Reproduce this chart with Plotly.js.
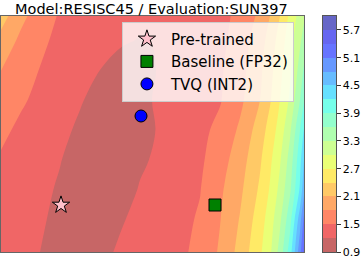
<!DOCTYPE html>
<html>
<head>
<meta charset="utf-8">
<script src="https://cdn.plot.ly/plotly-3.0.1.min.js"></script>
<style>html,body{margin:0;padding:0;background:#fff;}#chart{width:363px;height:261px;}</style>
</head>
<body>
<div id="chart"></div>
<script>
// ---- data ----
const titleText = "Model:RESISC45 / Evaluation:SUN397";
// loss grid over the landscape plane (columns / rows)
const gridX = [0, 20, 40, 60, 80, 100, 120, 140, 160, 180, 200, 220, 240, 260, 270, 280, 290, 300, 305];
const gridY = [0, 32, 62, 92, 122, 152, 182, 212, 236];
const loss = [
  [1.38,1.30,1.20,1.05,0.97,1.12,1.24,1.32,1.39,1.45,1.57,1.84,2.20,2.65,2.94,3.42,4.05,5.00,5.60],
  [1.40,1.32,1.24,1.12,1.00,1.04,1.17,1.28,1.36,1.43,1.53,1.79,2.12,2.56,2.85,3.25,3.80,4.68,5.30],
  [1.42,1.34,1.26,1.17,1.05,1.00,1.08,1.22,1.32,1.41,1.49,1.75,2.04,2.45,2.73,3.09,3.55,4.25,4.85],
  [1.47,1.37,1.29,1.21,1.10,1.03,1.03,1.16,1.25,1.35,1.45,1.67,1.96,2.36,2.64,2.97,3.42,4.10,4.60],
  [1.58,1.44,1.33,1.26,1.16,1.07,1.04,1.10,1.23,1.33,1.43,1.57,1.85,2.25,2.52,2.83,3.25,3.90,4.30],
  [1.70,1.55,1.42,1.32,1.22,1.12,1.07,1.14,1.24,1.32,1.40,1.48,1.73,2.10,2.37,2.70,3.05,3.60,3.95],
  [1.81,1.64,1.49,1.39,1.30,1.20,1.12,1.12,1.22,1.29,1.36,1.46,1.69,2.04,2.30,2.62,2.95,3.42,3.70],
  [2.02,1.75,1.57,1.42,1.34,1.28,1.23,1.19,1.21,1.26,1.33,1.42,1.64,1.97,2.22,2.53,2.87,3.25,3.45],
  [2.25,1.89,1.65,1.47,1.40,1.33,1.28,1.25,1.26,1.30,1.36,1.42,1.57,1.87,2.10,2.40,2.77,3.13,3.30]
];
// contour levels (colorbar band edges)
const levels = [0.9,1.2,1.5,1.8,2.1,2.4,2.7,3.0,3.3,3.6,3.9,4.2,4.5,4.8,5.1,5.4,5.7,6.0];
const cbTickVals = [0.9,1.5,2.1,2.7,3.3,3.9,4.5,5.1,5.7];
const cbTickText = ["0.9","1.5","2.1","2.7","3.3","3.9","4.5","5.1","5.7"];
// marked points
const pointNames = ["Pre-trained", "Baseline (FP32)", "TVQ (INT2)"];
const pointX = [61, 215, 141];
const pointY = [47, 47, 136];

// ---- style ----
const bandColors = [
  "rgb(199,102,102)","rgb(240,102,102)","rgb(255,134,102)","rgb(255,168,102)",
  "rgb(255,201,102)","rgb(255,234,102)","rgb(234,255,118)","rgb(205,255,147)",
  "rgb(176,255,176)","rgb(147,255,205)","rgb(118,255,234)","rgb(102,224,255)",
  "rgb(102,188,255)","rgb(102,152,255)","rgb(102,116,255)","rgb(102,102,240)",
  "rgb(102,102,199)"
];
const nb = bandColors.length - 1;
const cscale = bandColors.map((c, i) => [i / nb, c]);
const font = "DejaVu Sans, sans-serif";
const symbols = ["star", "square", "circle"];
const fills = ["#ffc0cb", "#008000", "#0000ff"];
const sizes = [13, 12, 12];

const traces = [{
  type: "contour",
  x: gridX, y: gridY, z: loss,
  autocontour: false,
  zauto: false, zmin: levels[0], zmax: levels[levels.length - 1],
  contours: {start: levels[1], end: levels[levels.length - 2], size: 0.3, coloring: "fill", showlines: false},
  line: {width: 0, smoothing: 1},
  colorscale: cscale, showscale: false, hoverinfo: "skip", showlegend: false,
  xaxis: "x", yaxis: "y"
}];
pointNames.forEach((n, i) => {
  traces.push({
    type: "scatter", mode: "markers",
    x: [pointX[i]], y: [pointY[i]], name: n, legendgroup: "g" + i,
    marker: {symbol: symbols[i], size: sizes[i], color: fills[i], line: {color: "black", width: 1}},
    xaxis: "x", yaxis: "y"
  });
});
// colorbar drawn as a heatmap on its own axes
const bandIdx = levels.slice(0, -1).map((v, i) => [i]);
traces.push({
  type: "heatmap", x: [0, 1], y: levels, z: bandIdx,
  zmin: 0, zmax: nb, colorscale: cscale, showscale: false, hoverinfo: "skip",
  xaxis: "x2", yaxis: "y2"
});

const frameColor = "#666";
const layout = {
  width: 363, height: 261,
  margin: {l: 1, r: 27, t: 16, b: 9, pad: 0},
  paper_bgcolor: "#fff", plot_bgcolor: "#fff",
  font: {family: font, size: 11, color: "#000"},
  title: {text: titleText, font: {family: font, size: 14.5, color: "#000"},
          xref: "paper", x: 0.449, xanchor: "center", yref: "container", y: 0.9674, yanchor: "middle"},
  xaxis: {domain: [0, 0.90448], range: [1, 304], showgrid: false, zeroline: false, showticklabels: false, ticks: "",
          showline: true, mirror: true, linecolor: frameColor, linewidth: 1},
  yaxis: {domain: [0, 1], range: [0, 236], showgrid: false, zeroline: false, showticklabels: false, ticks: "",
          showline: true, mirror: true, linecolor: frameColor, linewidth: 1},
  xaxis2: {domain: [0.9612, 1], range: [0, 1], anchor: "y2", showgrid: false, zeroline: false, showticklabels: false,
           ticks: "", showline: true, mirror: true, linecolor: "#555", linewidth: 1},
  yaxis2: {domain: [0, 1], range: [levels[0], levels[levels.length - 1]], anchor: "x2", side: "right",
           tickvals: cbTickVals, ticktext: cbTickText, ticks: "outside", ticklen: 3.5, tickwidth: 1, tickcolor: "#333",
           showgrid: false, zeroline: false, showline: true, mirror: true, linecolor: "#555", linewidth: 1,
           tickfont: {family: font, size: 11, color: "#000"}},
  showlegend: true,
  legend: {x: 0.361, y: 0.976, xanchor: "left", yanchor: "top",
           bgcolor: "rgba(255,255,255,0.8)", bordercolor: "#cccccc", borderwidth: 1,
           font: {family: font, size: 15, color: "#000"}, itemwidth: 38,
           traceorder: "grouped", tracegroupgap: 0}
};
Plotly.newPlot("chart", traces, layout, {staticPlot: true, displayModeBar: false});
</script>
</body>
</html>
